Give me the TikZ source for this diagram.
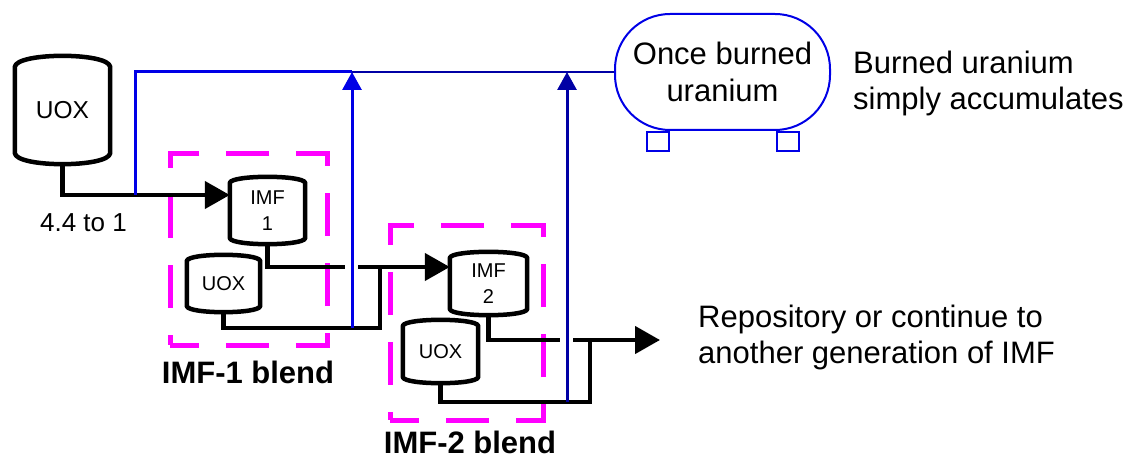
\documentclass[tikz,border=0pt]{standalone}
\usepackage{fontspec}
\setmainfont{Liberation Sans}
\usetikzlibrary{calc, arrows.meta}

\definecolor{flowblue}{RGB}{0,0,230}
\definecolor{flownavy}{RGB}{0,0,165}
\definecolor{blendpink}{RGB}{255,0,255}

% outline of a drum around a node: #1 node name, #2 bulge of top and bottom
\newcommand{\drumoutline}[2]{%
  \draw[drum line] (#1.south west) -- (#1.north west)
    .. controls +(2,{-1.33*#2}) and +(-2,{-1.33*#2}) .. (#1.north east)
    -- (#1.south east)
    .. controls +(-2,{1.33*#2}) and +(2,{1.33*#2}) .. (#1.south west) -- cycle;
  \coordinate (#1 base) at ($(#1.south)+(0,#2)$);}

\begin{document}
\begin{tikzpicture}[
    x=1pt, y=-1pt,
    % Estilos de nodos
    drum/.style={inner sep=0pt, align=center},
    drum line/.style={line width=4.5pt, black, line join=round},
    small text/.style={font=\fontsize{20}{26}\selectfont},
    label text/.style={font=\fontsize{31}{36}\selectfont, inner sep=0pt, align=left},
    blend box/.style={draw=blendpink, line width=5pt, dash pattern=on 43pt off 27pt, dash phase=14pt},
    blend label/.style={font=\fontsize{31}{36}\selectfont\bfseries, inner sep=0pt},
    % Estilos de aristas
    pipe/.style={line width=4.5pt, black},
    pipe arrow/.style={-{Triangle[length=25pt, width=27pt]}},
    flow/.style={line width=3pt, flowblue},
    thin flow/.style={line width=2pt, flownavy},
    flow arrow/.style={-{Triangle[length=18pt, width=19pt]}}
]
    \useasboundingbox (0,0) rectangle (1134,462);

    % =========================================================================
    % 1. Cajas de mezcla
    % =========================================================================
    \node[blend box, minimum width=157pt, minimum height=191pt] (blend1) at (248.5,249.5) {};
    \node[blend box, minimum width=153pt, minimum height=194pt] (blend2) at (466.5,323) {};
    \node[blend label] (blend1 name) at (248,372) {IMF-1 blend};
    \node[blend label] (blend2 name) at (470,442) {IMF-2 blend};

    % =========================================================================
    % 2. Tanques
    % =========================================================================
    \node[drum, minimum width=95pt, minimum height=86pt, font=\fontsize{24.5}{30}\selectfont] (uoxbig) at (62.5,110) {UOX};
    \node[drum, small text, minimum width=75pt, minimum height=55pt] (imf1) at (267.5,210.5) {IMF\\1};
    \node[drum, small text, minimum width=73pt, minimum height=45pt] (uox1) at (223.5,283.5) {UOX};
    \node[drum, small text, minimum width=77pt, minimum height=51pt] (imf2) at (488.5,283.5) {IMF\\2};
    \node[drum, small text, minimum width=75pt, minimum height=51pt] (uox2) at (440.5,351.5) {UOX};
    \drumoutline{uoxbig}{11}
    \drumoutline{imf1}{6}
    \drumoutline{uox1}{6}
    \drumoutline{imf2}{6}
    \drumoutline{uox2}{6}

    % Tanque de uranio quemado
    \node[draw=flowblue, line width=2pt, rounded corners=55pt, minimum width=215pt, minimum height=116pt,
          label text, align=center, font=\fontsize{31}{37}\selectfont] (burned) at (722.5,72) {Once burned\\uranium};
    \node[draw=flowblue, line width=2pt, minimum width=22pt, minimum height=19pt, inner sep=0pt, anchor=north]
        (left leg) at ($(burned.south)+(-65,0)$) {};
    \node[draw=flowblue, line width=2pt, minimum width=22pt, minimum height=19pt, inner sep=0pt, anchor=north]
        (right leg) at ($(burned.south)+(65,0)$) {};

    % Textos
    \node[label text, anchor=west] (accum) at (853,83) {Burned uranium\\simply accumulates};
    \node[label text, anchor=west] (repo) at (698,337) {Repository or continue to\\another generation of IMF};
    \node[font=\fontsize{26}{30}\selectfont, inner sep=0pt] (ratio) at (83.5,223) {4.4 to 1};

    % =========================================================================
    % 3. Puntos de union
    % =========================================================================
    \coordinate (split1) at (135,195);
    \coordinate (top1) at (352,72);
    \coordinate (top2) at (567,72);
    \coordinate (mix1) at (380,267);
    \coordinate (tap1) at (352,328);
    \coordinate (cross1) at (top1 |- mix1);
    \coordinate (mix2) at (590,340);
    \coordinate (tap2) at (567,402);
    \coordinate (cross2) at (top2 |- mix2);
    \coordinate (out) at (660,340);

    % =========================================================================
    % 4. Tuberias negras
    % =========================================================================
    \draw[pipe, pipe arrow] (uoxbig base) |- (split1) -- (split1 -| imf1.west);
    \draw[pipe] (imf1 base) |- ($(cross1)+(-7,0)$);
    \draw[pipe, pipe arrow] ($(cross1)+(6,0)$) -- (mix1) -- (mix1 -| imf2.west);
    \draw[pipe] (uox1 base) |- (tap1) -| (mix1);
    \draw[pipe] (imf2 base) |- ($(cross2)+(-7,0)$);
    \draw[pipe, pipe arrow] ($(cross2)+(6,0)$) -- (mix2) -- (out);
    \draw[pipe] (uox2 base) |- (tap2) -| (mix2);

    % =========================================================================
    % 5. Flujo azul hacia el uranio quemado
    % =========================================================================
    \draw[flow] (split1) |- (top1);
    \draw[thin flow] (top1) -- (top2) -- (burned.west);
    \draw[flow, flow arrow] (tap1) -- (top1);
    \draw[flow, flownavy, flow arrow] (tap2) -- (top2);
\end{tikzpicture}
\end{document}
